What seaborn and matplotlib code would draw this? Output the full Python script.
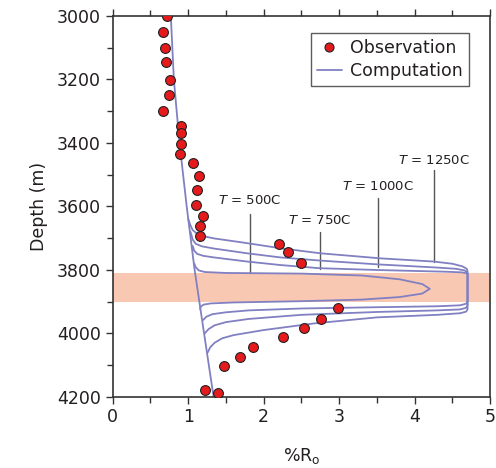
import numpy as np
import pandas as pd
import matplotlib
matplotlib.use("Agg")
import matplotlib.pyplot as plt
import seaborn as sns
from matplotlib.ticker import MultipleLocator
from matplotlib.lines import Line2D

sns.set_theme(style="white")
plt.rcParams['font.family'] = ['DejaVu Sans']

# ---- observations ----
obs_ro = [0.72, 0.67, 0.69, 0.71, 0.76, 0.74, 0.67, 0.91, 0.91, 0.90, 0.885, 1.06,
          1.14, 1.115, 1.10, 1.19, 1.15, 1.15, 2.20, 2.32, 2.49, 2.98, 2.76, 2.54,
          2.25, 1.86, 1.68, 1.47, 1.22, 1.40]
obs_depth = [3000, 3050, 3100, 3146, 3202, 3248, 3298, 3346, 3368, 3402, 3434, 3463,
             3505, 3548, 3595, 3631, 3663, 3694, 3720, 3744, 3779, 3922, 3955, 3982,
             4011, 4044, 4074, 4102, 4179, 4187]

# ---- computed background profile ----
base_ro = [0.77, 0.81, 0.885, 0.98, 1.085, 1.21, 1.336]
base_depth = [3000, 3200, 3400, 3600, 3800, 4000, 4200]

# ---- computed profiles near the intrusion ----
t500_ro = [1.08, 1.10, 1.14, 1.22, 1.50, 2.50, 3.30, 3.80, 4.10, 4.20, 4.10, 3.80, 3.30,
           2.50, 1.60, 1.30, 1.20, 1.16, 1.16]
t500_depth = [3780, 3792, 3802, 3807, 3810, 3812, 3818, 3830, 3845, 3860, 3875, 3886,
              3894, 3899, 3903, 3906, 3910, 3918, 3925]

t750_ro = [1.06, 1.08, 1.12, 1.20, 1.34, 1.78, 2.22, 2.74, 3.55, 4.40, 4.62, 4.69, 4.70,
           4.70, 4.68, 4.60, 4.30, 3.50, 2.50, 1.80, 1.50, 1.32, 1.24, 1.20]
t750_depth = [3725, 3740, 3750, 3756, 3761, 3774, 3785, 3795, 3801, 3806, 3808, 3811,
              3815, 3900, 3907, 3912, 3915, 3918, 3922, 3928, 3934, 3940, 3948, 3958]

t1000_ro = [1.03, 1.06, 1.10, 1.18, 1.34, 1.78, 2.22, 2.75, 3.51, 4.30, 4.55, 4.66,
            4.70, 4.70, 4.68, 4.60, 4.30, 3.50, 2.50, 1.80, 1.50, 1.35, 1.27, 1.22]
t1000_depth = [3680, 3705, 3718, 3726, 3733, 3748, 3761, 3771, 3783, 3793, 3797, 3802,
               3809, 3912, 3920, 3925, 3928, 3933, 3942, 3955, 3965, 3975, 3987, 4000]

t1250_ro = [1.00, 1.03, 1.06, 1.12, 1.22, 1.34, 1.78, 2.22, 2.75, 3.55, 4.25, 4.50,
            4.63, 4.69, 4.70, 4.70, 4.68, 4.60, 4.30, 3.50, 2.67, 2.00, 1.60, 1.45,
            1.35, 1.29, 1.26]
t1250_depth = [3640, 3660, 3675, 3687, 3695, 3701, 3716, 3732, 3748, 3764, 3774, 3781,
               3789, 3797, 3805, 3925, 3932, 3937, 3942, 3950, 3969, 3990, 4006, 4016,
               4030, 4045, 4060]

# ---- annotations ----
label_text = ["$T$ = 500C", "$T$ = 750C", "$T$ = 1000C", "$T$ = 1250C"]
label_x = [1.82, 2.74, 3.51, 4.25]
label_y = [3583, 3646, 3539, 3457]
pointer_top = [3624, 3680, 3575, 3485]
pointer_bottom = [3811, 3798, 3790, 3775]

sill_top, sill_bottom = 3810, 3900

line_color = "#8080c2"
text_color = "#231f20"

fig = plt.figure(figsize=(4.96, 4.68), dpi=100)
ax = fig.add_axes([0.2272, 0.1524, 0.7611, 0.8134])

ax.axhspan(sill_top, sill_bottom, color="#f9c8b3", lw=0, zorder=0)

curves = [(base_ro, base_depth), (t500_ro, t500_depth), (t750_ro, t750_depth),
          (t1000_ro, t1000_depth), (t1250_ro, t1250_depth)]
for i, (r, d) in enumerate(curves):
    df = pd.DataFrame({"ro": r, "depth": d})
    sns.lineplot(data=df, x="ro", y="depth", sort=False, estimator=None, ax=ax,
                 color=line_color, lw=1.3, zorder=2)
for ln in ax.get_lines():
    ln.set_solid_joinstyle("round")

for t, x, y, p0, p1 in zip(label_text, label_x, label_y, pointer_top, pointer_bottom):
    ax.plot([x, x], [p0, p1], color="#555555", lw=1.0, zorder=1.5)
    ax.text(x, y, t, ha="center", va="center", fontsize=9.5, color=text_color)

obs = pd.DataFrame({"ro": obs_ro, "depth": obs_depth})
sns.scatterplot(data=obs, x="ro", y="depth", ax=ax, s=50, color="#e41a1c",
                edgecolor="#222222", linewidth=0.8, zorder=3)

ax.set_xlim(0, 5)
ax.set_ylim(4200, 3000)
ax.xaxis.set_major_locator(MultipleLocator(1))
ax.xaxis.set_minor_locator(MultipleLocator(0.5))
ax.yaxis.set_major_locator(MultipleLocator(200))
ax.yaxis.set_minor_locator(MultipleLocator(100))
ax.tick_params(which="both", direction="out", colors="#333333", labelcolor=text_color,
               labelsize=12.5, top=True, right=False, bottom=True, left=True, labeltop=False)
ax.tick_params(which="major", length=5, width=1.0)
ax.tick_params(which="minor", length=4, width=1.0)
for s in ax.spines.values():
    s.set_color("#333333")
    s.set_linewidth(1.2)

ax.set_xlabel("%R$_\\mathrm{o}$", fontsize=12.5, color=text_color, labelpad=14)
ax.set_ylabel("Depth (m)", fontsize=12.5, color=text_color, labelpad=6)

handles = [Line2D([], [], marker="o", ls="none", markerfacecolor="#e41a1c",
                  markeredgecolor="#222222", markersize=6.5, markeredgewidth=0.8),
           Line2D([], [], color=line_color, lw=1.3)]
leg = ax.legend(handles, ["Observation", "Computation"], loc="upper right",
                bbox_to_anchor=(0.944, 0.955), borderaxespad=0, fontsize=12.5,
                frameon=True, fancybox=False, handlelength=1.4, handletextpad=0.5,
                borderpad=0.35, labelspacing=0.3)
leg.get_frame().set_edgecolor("#333333")
leg.get_frame().set_linewidth(1.0)
for t in leg.get_texts():
    t.set_color(text_color)

fig.savefig("out.png", dpi=100)
